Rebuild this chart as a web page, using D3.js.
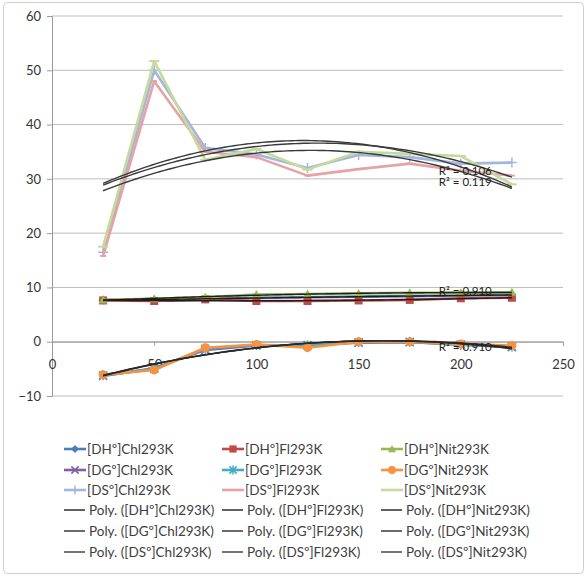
<!DOCTYPE html>
<html>
<head>
<meta charset="utf-8">
<script src="https://cdn.jsdelivr.net/npm/d3@7"></script>
<style>
  body { margin: 0; background: #fff; }
  text { font-family: Lato, "Open Sans", sans-serif; }
</style>
</head>
<body>
<div id="chart"></div>
<script>
// valores
const xValues = [25, 50, 75, 100, 125, 150, 175, 200, 225];

const dhChl = [7.7, 7.6, 7.9, 8.1, 8.2, 8.3, 8.4, 8.5, 8.6];
const dhFl  = [7.6, 7.5, 7.8, 7.5, 7.5, 7.6, 7.7, 8.0, 8.1];
const dhNit = [7.7, 7.9, 8.2, 8.7, 8.8, 8.9, 9.0, 9.0, 9.1];
const dgChl = [-6.3, -4.9, -1.5, -0.7, -0.6, -0.2, -0.1, -0.5, -1.0];
const dgFl  = [-6.2, -5.0, -1.3, -0.6, -0.7, -0.1, 0.0, -0.6, -0.9];
const dgNit = [-6.1, -5.2, -1.1, -0.5, -1.1, 0.0, 0.0, -0.4, -0.7];
const dsChl = [16.5, 50.0, 35.7, 34.5, 32.0, 34.4, 34.0, 32.8, 33.0];
const dsFl  = [15.8, 48.0, 35.0, 34.0, 30.6, 31.8, 32.8, 31.5, 30.6];
const dsNit = [17.5, 51.7, 33.5, 35.5, 31.7, 35.0, 34.6, 34.2, 29.0];

const seriesNames = ["[DHº]Chl293K", "[DHº]Fl293K", "[DHº]Nit293K",
                     "[DGº]Chl293K", "[DGº]Fl293K", "[DGº]Nit293K",
                     "[DSº]Chl293K", "[DSº]Fl293K", "[DSº]Nit293K"];
const seriesValues = [dhChl, dhFl, dhNit, dgChl, dgFl, dgNit, dsChl, dsFl, dsNit];
const seriesColors = ["#4a7ebb", "#be4b48", "#98b954", "#7d60a0", "#46aac5", "#f69240",
                      "#a3b6df", "#e6a2a4", "#c6da9c"];
const seriesMarkers = ["diamond", "square", "triangle", "x", "star", "circle", "plus", "dash", "longdash"];
const trendColors = ["#1e1e1e", "#1e1e1e", "#1e1e1e", "#2a2a2a", "#2a2a2a", "#2a2a2a", "#3a3a3a", "#3a3a3a", "#3a3a3a"];

const xTicks = [0, 50, 100, 150, 200, 250];
const yTicks = [-10, 0, 10, 20, 30, 40, 50, 60];

const r2Labels = [
  {text: "R² = 0.106", x: 200, y: 30.8},
  {text: "R² = 0.119", x: 200, y: 28.6},
  {text: "R² = 0.910", x: 200, y: 8.6},
  {text: "R² = 0.910", x: 200, y: -1.7}
];

const W = 587, H = 577;
const svg = d3.select("#chart").append("svg")
    .attr("width", W)
    .attr("height", H);

// moldura do gráfico
svg.append("rect")
    .attr("x", 3.5).attr("y", 2.5)
    .attr("width", 580).attr("height", 571)
    .attr("rx", 4)
    .attr("fill", "#fff")
    .attr("stroke", "#cfcfcf");

const x = d3.scaleLinear().domain([0, 250]).range([52, 563]);
const y = d3.scaleLinear().domain([-10, 60]).range([396, 16]);

// linhas de grade
svg.append("g")
    .selectAll("line")
    .data(yTicks)
    .join("line")
    .attr("x1", x(0)).attr("x2", x(250))
    .attr("y1", d => y(d)).attr("y2", d => y(d))
    .attr("stroke", "#bdbdbd")
    .attr("stroke-width", 1);

// eixo y
const yAxis = svg.append("g")
    .attr("transform", `translate(${x(0)},0)`)
    .call(d3.axisLeft(y).tickValues(yTicks).tickSize(5).tickPadding(6));
yAxis.select(".domain").attr("stroke", "#9a9a9a");
yAxis.selectAll(".tick line").attr("stroke", "#9a9a9a");
yAxis.selectAll("text").attr("fill", "#333").style("font-size", "13px");

// eixo x (cruza em 0)
const xAxis = svg.append("g")
    .attr("transform", `translate(0,${y(0)})`)
    .call(d3.axisBottom(x).tickValues(xTicks).tickSize(4).tickPadding(14));
xAxis.select(".domain").attr("stroke", "#9a9a9a");
xAxis.selectAll(".tick line").attr("stroke", "#9a9a9a");
xAxis.selectAll("text").attr("fill", "#333").style("font-size", "13px");

// marcadores
function drawMarker(g, type, color, cx, cy, s) {
  s = s || 1;
  if (type === "diamond") {
    g.append("path").attr("d", `M${cx},${cy - 4.5 * s}L${cx + 4.5 * s},${cy}L${cx},${cy + 4.5 * s}L${cx - 4.5 * s},${cy}Z`)
      .attr("fill", color);
  } else if (type === "square") {
    g.append("rect").attr("x", cx - 4 * s).attr("y", cy - 4 * s).attr("width", 8 * s).attr("height", 8 * s)
      .attr("fill", color);
  } else if (type === "triangle") {
    g.append("path").attr("d", `M${cx},${cy - 4.5 * s}L${cx + 4.5 * s},${cy + 3.5 * s}L${cx - 4.5 * s},${cy + 3.5 * s}Z`)
      .attr("fill", color);
  } else if (type === "x") {
    g.append("path").attr("d", `M${cx - 4 * s},${cy - 4 * s}L${cx + 4 * s},${cy + 4 * s}M${cx + 4 * s},${cy - 4 * s}L${cx - 4 * s},${cy + 4 * s}`)
      .attr("stroke", color).attr("stroke-width", 1.5);
  } else if (type === "star") {
    g.append("path").attr("d", `M${cx - 4 * s},${cy - 4 * s}L${cx + 4 * s},${cy + 4 * s}M${cx + 4 * s},${cy - 4 * s}L${cx - 4 * s},${cy + 4 * s}M${cx},${cy - 5 * s}L${cx},${cy + 5 * s}`)
      .attr("stroke", color).attr("stroke-width", 1.5);
  } else if (type === "circle") {
    g.append("circle").attr("cx", cx).attr("cy", cy).attr("r", 4.5 * s).attr("fill", color);
  } else if (type === "plus") {
    g.append("path").attr("d", `M${cx - 5 * s},${cy}L${cx + 5 * s},${cy}M${cx},${cy - 5 * s}L${cx},${cy + 5 * s}`)
      .attr("stroke", color).attr("stroke-width", 1.5);
  } else if (type === "dash") {
    g.append("path").attr("d", `M${cx - 3 * s},${cy}L${cx + 3 * s},${cy}`)
      .attr("stroke", color).attr("stroke-width", 2);
  } else if (type === "longdash") {
    g.append("path").attr("d", `M${cx - 5 * s},${cy}L${cx + 5 * s},${cy}`)
      .attr("stroke", color).attr("stroke-width", 2);
  }
}

const line = d3.line().x(d => x(d[0])).y(d => y(d[1]));

// séries
const plot = svg.append("g");
seriesValues.forEach((vals, i) => {
  const pts = xValues.map((xv, j) => [xv, vals[j]]);
  plot.append("path")
      .attr("d", line(pts))
      .attr("fill", "none")
      .attr("stroke", seriesColors[i])
      .attr("stroke-width", 2.6)
      .attr("stroke-linejoin", "round");
  const mg = plot.append("g");
  pts.forEach(p => drawMarker(mg, seriesMarkers[i], seriesColors[i], x(p[0]), y(p[1])));
});

// linhas de tendência polinomiais (ordem 2, mínimos quadrados)
function polyFit2(xs, ys) {
  let s = [0, 0, 0, 0, 0], t = [0, 0, 0];
  xs.forEach((xv, k) => {
    for (let p = 0; p < 5; p++) s[p] += Math.pow(xv, p);
    for (let p = 0; p < 3; p++) t[p] += ys[k] * Math.pow(xv, p);
  });
  const A = [[s[0], s[1], s[2], t[0]], [s[1], s[2], s[3], t[1]], [s[2], s[3], s[4], t[2]]];
  for (let c = 0; c < 3; c++) {
    for (let r = c + 1; r < 3; r++) {
      const f = A[r][c] / A[c][c];
      for (let k = c; k < 4; k++) A[r][k] -= f * A[c][k];
    }
  }
  const b = [0, 0, 0];
  for (let r = 2; r >= 0; r--) {
    let v = A[r][3];
    for (let k = r + 1; k < 3; k++) v -= A[r][k] * b[k];
    b[r] = v / A[r][r];
  }
  return xv => b[0] + b[1] * xv + b[2] * xv * xv;
}

const trendX = d3.range(xValues[0], xValues[xValues.length - 1] + 0.1, 2);
seriesValues.forEach((vals, i) => {
  const f = polyFit2(xValues, vals);
  plot.append("path")
      .attr("d", line(trendX.map(xv => [xv, f(xv)])))
      .attr("fill", "none")
      .attr("stroke", trendColors[i])
      .attr("stroke-width", 1.4);
});

// rótulos R²
svg.append("g")
    .selectAll("text")
    .data(r2Labels)
    .join("text")
    .attr("x", d => x(d.x) - 22)
    .attr("y", d => y(d.y))
    .attr("fill", "#222")
    .style("font-size", "11.5px")
    .text(d => d.text);

// legenda
const colX = [64, 222, 381];
const rowY = [449, 470, 490, 510, 531, 552];
const legend = svg.append("g");
seriesNames.forEach((name, i) => {
  const cx = colX[i % 3], cy = rowY[Math.floor(i / 3)];
  legend.append("line")
      .attr("x1", cx).attr("x2", cx + 22).attr("y1", cy).attr("y2", cy)
      .attr("stroke", seriesColors[i]).attr("stroke-width", 2.6);
  drawMarker(legend, seriesMarkers[i], seriesColors[i], cx + 11, cy, 0.9);
  legend.append("text")
      .attr("x", cx + 23).attr("y", cy).attr("dy", "0.35em")
      .attr("fill", "#404040")
      .style("font-size", "13.5px")
      .text(name);
});
seriesNames.forEach((name, i) => {
  const cx = colX[i % 3], cy = rowY[3 + Math.floor(i / 3)];
  legend.append("line")
      .attr("x1", cx).attr("x2", cx + 21).attr("y1", cy).attr("y2", cy)
      .attr("stroke", trendColors[i]).attr("stroke-width", 1.4);
  legend.append("text")
      .attr("x", cx + 25).attr("y", cy).attr("dy", "0.35em")
      .attr("fill", "#404040")
      .style("font-size", "13.5px")
      .text("Poly. (" + name + ")");
});
</script>
</body>
</html>
